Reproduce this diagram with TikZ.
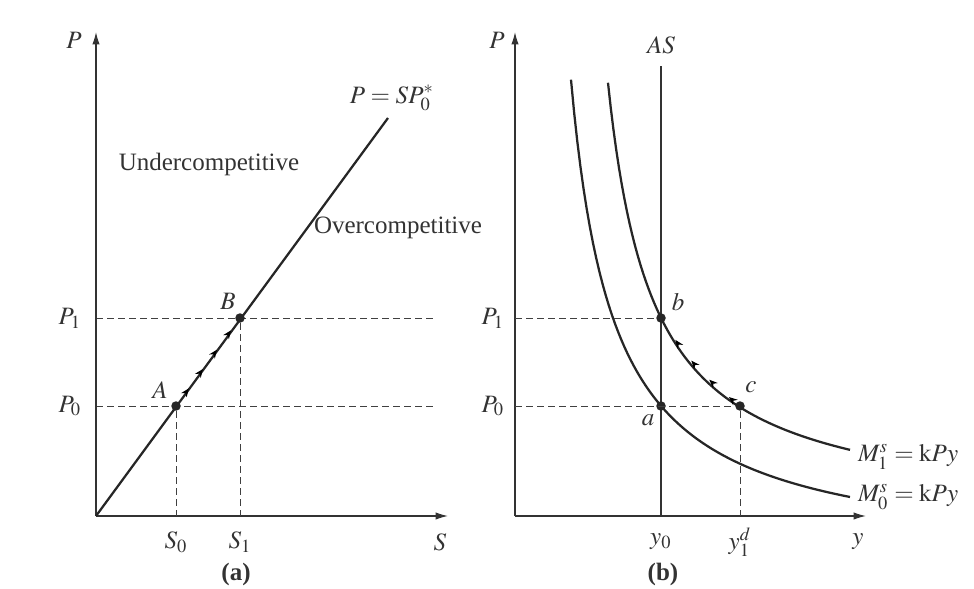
\documentclass[tikz,border=0pt]{standalone}
\usepackage{amsmath}
\usepackage{mathptmx}
\usepackage[no-math]{fontspec}
\setmainfont{Liberation Serif}
\usetikzlibrary{arrows.meta,decorations.markings}

\begin{document}
\begin{tikzpicture}[x=0.4pt,y=0.4pt,
  axis/.style={draw=black!80,line width=0.5pt,-{Latex[length=5pt,width=3pt]}},
  curve/.style={draw=black!85,line width=0.9pt},
  guide/.style={draw=black!75,line width=0.4pt,dash pattern=on 2.6pt off 1.8pt},
  dot/.style={circle,fill=black!85,inner sep=0pt,minimum size=3.8pt},
  lbl/.style={text=black!80,inner sep=1pt},
  flow/.style={postaction={decorate},decoration={markings,
    mark=between positions #1 step 0.22 with {\arrow{Stealth[length=3.4pt,width=2.8pt]}}}}]
\useasboundingbox (0,0) rectangle (974,588);
% panel (a)
\coordinate (Oa) at (96,72);
\coordinate (Ptip) at (96,556);
\coordinate (Stip) at (448,72);
\coordinate (E) at (388,470);
\coordinate (S0) at (176,72);
\coordinate (S1) at (240,72);
\coordinate (P0a) at (96,182);
\coordinate (P1a) at (96,270);
\coordinate (P0e) at (436,182);
\coordinate (P1e) at (434,270);
\draw[guide] (P0a) -- (P0e);
\draw[guide] (P1a) -- (P1e);
\draw[axis] (Oa) -- (Ptip);
\draw[axis] (Oa) -- (Stip);
\draw[curve] (Oa) -- (E);
\node[dot] (A) at (176,182) {};
\node[dot] (B) at (240,270) {};
\draw[guide] (A) -- (S0);
\draw[guide] (B) -- (S1);
\path[flow=0.2 and 0.86] (A.center) -- (B.center);
\node[lbl] (lP) at (74,548) {$P$};
\node[lbl] (lP1) at (70,270) {$P_1$};
\node[lbl] (lP0) at (70,182) {$P_0$};
\node[lbl] (lA) at (160,198) {$A$};
\node[lbl] (lB) at (228,287) {$B$};
\node[lbl] (lS0) at (176,46) {$S_0$};
\node[lbl] (lS1) at (240,46) {$S_1$};
\node[lbl] (lS) at (440,46) {$S$};
\node[lbl] (lSP) at (392,490) {$P=SP_0^{*}$};
\node[lbl] (under) at (209,424) {Undercompetitive};
\node[lbl,anchor=west] (over) at (311,360) {Overcompetitive};
\node[lbl] (capa) at (236,14) {\textbf{(a)}};
% panel (b)
\coordinate (Ob) at (515,72);
\coordinate (Pbtip) at (515,556);
\coordinate (ytip) at (866,72);
\coordinate (AStop) at (661,522);
\coordinate (y0) at (661,72);
\coordinate (y1) at (740,72);
\coordinate (P0b) at (515,182);
\coordinate (P1b) at (515,270);
\draw[curve] plot[domain=571:850,samples=90] (\x,{27+205.88/(0.01*(\x-528.2))});
\draw[curve] plot[domain=608:850,samples=90] (\x,{69.6+196.81/(0.01*(\x-562.8))});
\draw[axis] (Ob) -- (Pbtip);
\draw[axis] (Ob) -- (ytip);
\draw[draw=black!80,line width=0.5pt] (y0) -- (AStop);
\node[dot] (a) at (661,182) {};
\node[dot] (b) at (661,270) {};
\node[dot] (c) at (740,182) {};
\draw[guide] (P1b) -- (b);
\draw[guide] (P0b) -- (c);
\draw[guide] (c) -- (y1);
\path[flow=0.12 and 0.8] (c.center) to[bend left=10] (b.center);
\node[lbl] (lPb) at (497,548) {$P$};
\node[lbl] (lAS) at (661,543) {$AS$};
\node[lbl] (lP1b) at (493,270) {$P_1$};
\node[lbl] (lP0b) at (493,182) {$P_0$};
\node[lbl] (la) at (648,168) {$a$};
\node[lbl] (lb) at (678,286) {$b$};
\node[lbl] (lc) at (751,201) {$c$};
\node[lbl] (ly0) at (661,46) {$y_0$};
\node[lbl] (ly1) at (740,46) {$y_1^d$};
\node[lbl] (ly) at (858,46) {$y$};
\node[lbl,anchor=west] (M1) at (855,131) {$M_1^s=\mathrm{k}Py$};
\node[lbl,anchor=west] (M0) at (855,91) {$M_0^s=\mathrm{k}Py$};
\node[lbl] (capb) at (663,14) {\textbf{(b)}};
\end{tikzpicture}
\end{document}
